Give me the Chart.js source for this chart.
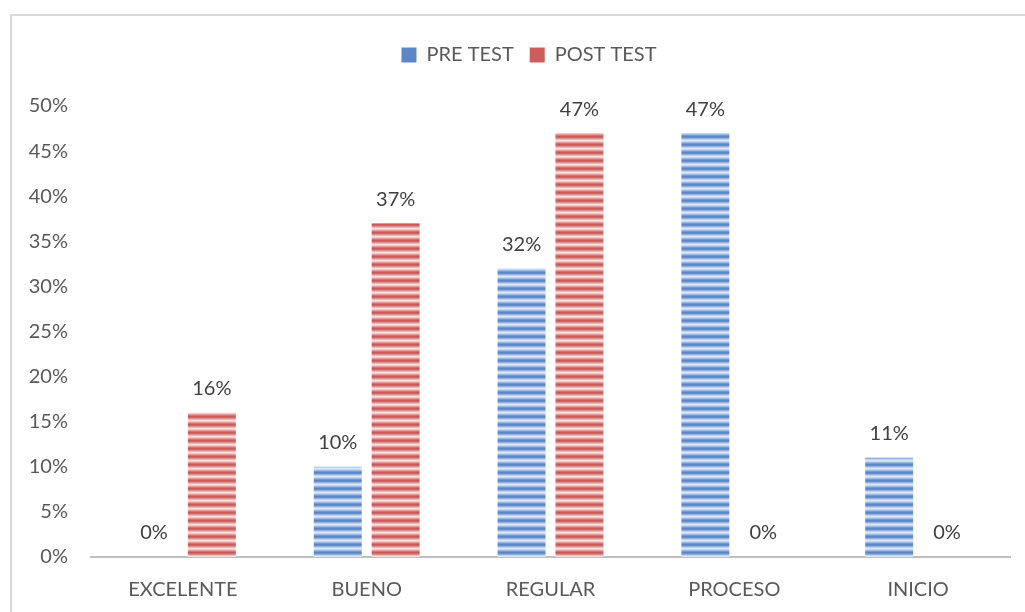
<!DOCTYPE html>
<html><head><meta charset="utf-8">
<script src="https://cdn.jsdelivr.net/npm/chart.js@4/dist/chart.umd.min.js"></script>
<style>html,body{margin:0;padding:0;background:#fff}#wrap{position:relative;width:1025px;height:612px}
#frame{position:absolute;left:10px;top:14px;width:1030px;height:620px;border:2px solid #D9D9D9;box-sizing:border-box}
canvas{position:absolute;left:0;top:0}</style></head>
<body><div id="wrap"><div id="frame"></div><canvas id="c" width="1025" height="612"></canvas></div>
<script>
const categories = ["EXCELENTE","BUENO","REGULAR","PROCESO","INICIO"];
const preTest = [0,10,32,47,11];
const postTest = [16,37,47,0,0];
const seriesNames = ["PRE TEST","POST TEST"];
const yTicks = [0,5,10,15,20,25,30,35,40,45,50];

function stripes(rows){
  const c=document.createElement('canvas');c.width=4;c.height=rows.length;
  const x=c.getContext('2d');
  rows.forEach((col,i)=>{x.fillStyle=col;x.fillRect(0,i,4,1);});
  return document.getElementById('c').getContext('2d').createPattern(c,'repeat');
}
const bluePat = stripes(['#5A87C7','#6890CB','#8EB0DE','#BCD2EE','#DDE9F7','#C6D8F1','#9DBAE2','#7399D0']);
const redPat = stripes(['#C95755','#CF6866','#DE8F8D','#EDBBBA','#F8E0DF','#F1C9C8','#E39E9C','#D47472']);

const labelPlugin={id:'vals',afterDatasetsDraw(chart){
  const ctx=chart.ctx;ctx.save();ctx.font='20px Lato';ctx.fillStyle='#404040';ctx.textAlign='center';ctx.textBaseline='middle';
  chart.data.datasets.forEach((ds,i)=>{chart.getDatasetMeta(i).data.forEach((b,j)=>{ctx.fillText(ds.data[j]+'%',b.x,b.y-24);});});
  ctx.restore();}};

const legendTweak={id:'legendTweak',
  beforeLayout(chart){const lg=chart.legend;if(lg&&!lg._tw){const f=lg.fit.bind(lg);lg.fit=function(){f();this.height+=31;};lg._tw=true;}},
  afterUpdate(chart){const lg=chart.legend;if(lg){lg.left+=14;lg.right+=14;lg.adjustHitBoxes();}}};

new Chart(document.getElementById('c'),{type:'bar',
 data:{labels:categories,datasets:[
  {label:seriesNames[0],data:preTest,backgroundColor:bluePat,categoryPercentage:0.63,barPercentage:0.828},
  {label:seriesNames[1],data:postTest,backgroundColor:redPat,categoryPercentage:0.63,barPercentage:0.828}]},
 options:{responsive:false,animation:false,devicePixelRatio:1,
  layout:{padding:{left:20,right:15,top:29,bottom:0}},
  plugins:{tooltip:{enabled:false},
   legend:{position:'top',labels:{font:{family:'Lato',size:20},color:'#595959',boxWidth:15,boxHeight:15,padding:16,
     generateLabels(chart){return chart.data.datasets.map((d,i)=>({text:d.label,fillStyle:i?'#CD5C5A':'#5B87C6',strokeStyle:'transparent',lineWidth:0,datasetIndex:i,fontColor:'#595959'}));}}}},
  scales:{
   x:{grid:{display:false,drawTicks:false},border:{color:'#BFBFBF',width:2},
      ticks:{font:{family:'Lato',size:20},color:'#595959',padding:21},
      afterFit(s){s.height=55;}},
   y:{min:0,max:50,afterBuildTicks(s){s.ticks=yTicks.map(v=>({value:v}));},
      grid:{display:false,drawTicks:false},border:{display:false},
      ticks:{font:{family:'Lato',size:20},color:'#595959',padding:23,callback:v=>v+'%'},
      afterFit(s){s.width=71;}}}},
 plugins:[legendTweak,labelPlugin]});
</script></body></html>
